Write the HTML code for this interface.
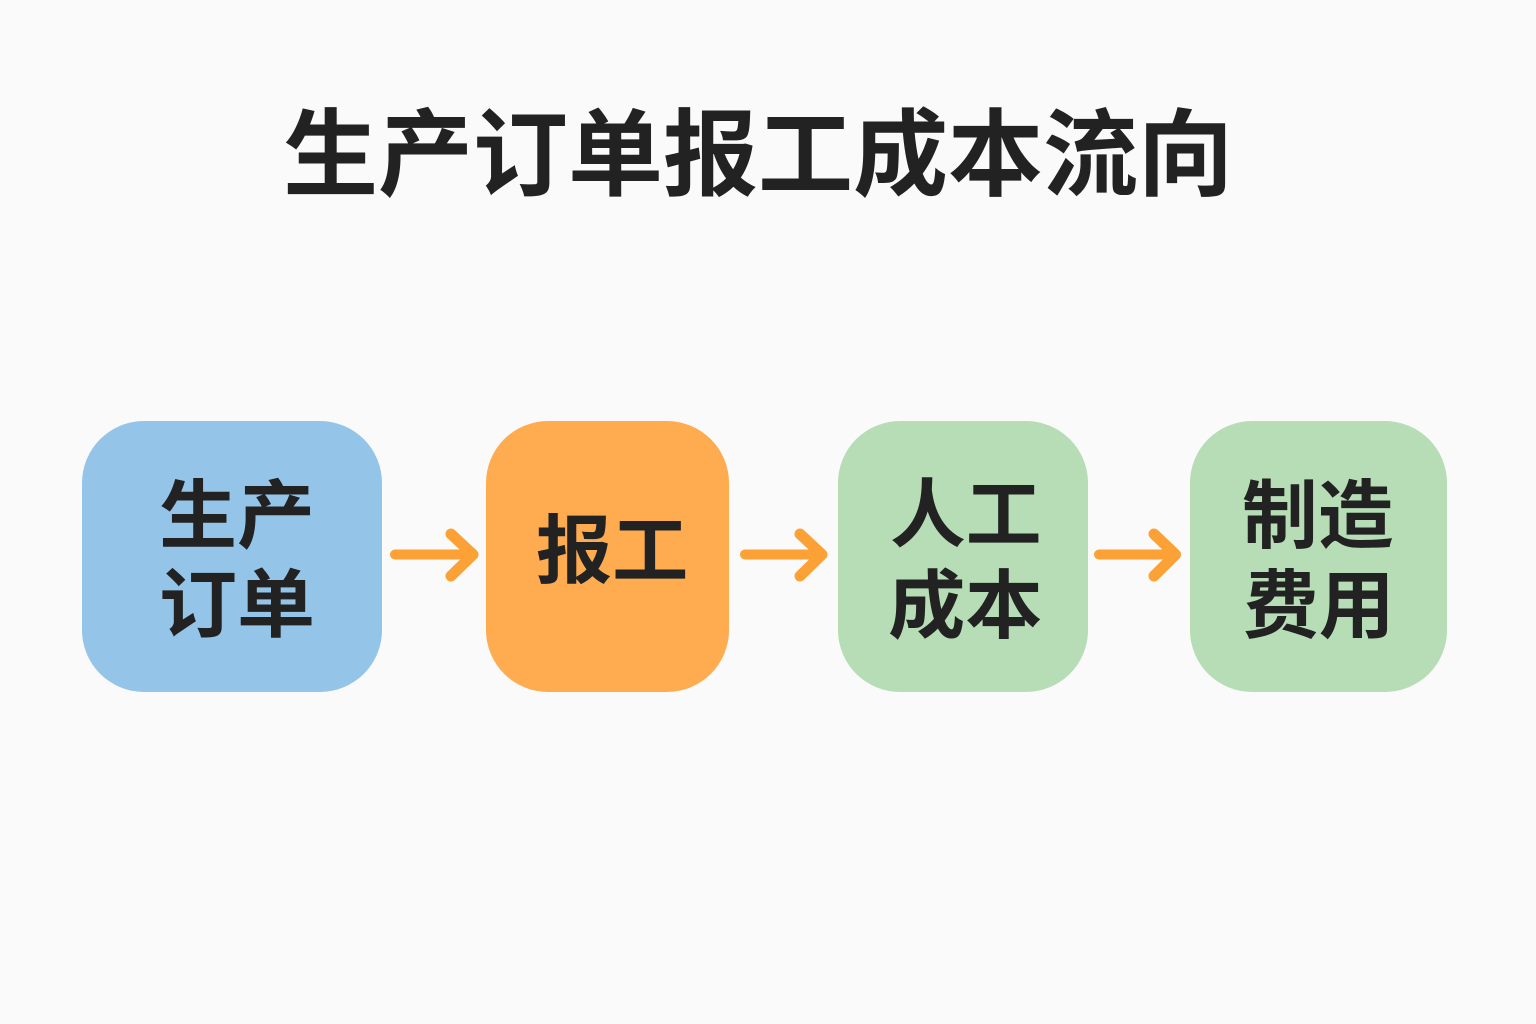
<!DOCTYPE html>
<html lang="zh">
<head>
<meta charset="utf-8">
<style>
html,body{margin:0;padding:0;background:#fafafa;}
#c{position:relative;width:1536px;height:1024px;overflow:hidden;background:#fafafa;font-family:"Liberation Sans","Noto Sans CJK SC",sans-serif;font-weight:700;color:#222;}
.t{position:absolute;white-space:nowrap;line-height:1;transform-origin:left top;}
.b{position:absolute;top:421px;height:271px;}
</style>
</head>
<body>
<div id="c">
<div class="t" style="left:283px;top:109px;font-size:95px;">生产订单报工成本流向</div>
<div class="b" style="left:82px;width:300px;background:#94c5e9;border-radius:62px;"></div>
<div class="b" style="left:486px;width:243px;background:#ffac50;border-radius:62px;"></div>
<div class="b" style="left:838px;width:250px;background:#b6ddb5;border-radius:62px;"></div>
<div class="b" style="left:1190px;width:257px;background:#b6ddb5;border-radius:62px;"></div>
<div class="t" style="left:159px;top:479px;font-size:75px;transform:scaleX(1.04);">生产</div>
<div class="t" style="left:159px;top:568px;font-size:75px;transform:scaleX(1.04);">订单</div>
<div class="t" style="left:536px;top:514px;font-size:75px;transform:scaleX(1.015);">报工</div>
<div class="t" style="left:890px;top:478px;font-size:75px;transform:scaleX(1.01);">人工</div>
<div class="t" style="left:888px;top:569px;font-size:75px;transform:scaleX(1.03);">成本</div>
<div class="t" style="left:1242px;top:479px;font-size:75px;transform:scaleX(1.01);">制造</div>
<div class="t" style="left:1243px;top:569px;font-size:75px;transform:scaleX(1.01);">费用</div>
<svg width="1536" height="1024" style="position:absolute;left:0;top:0" fill="none" stroke="#fba136" stroke-linecap="round" stroke-linejoin="round">
<g stroke-width="10">
<path d="M395 554.5H472"/>
<path d="M745 554.5H821"/>
<path d="M1099 554.5H1175"/>
</g>
<g stroke-width="11">
<path d="M451 534L473 554.5L451 576"/>
<path d="M800 534L822 554.5L800 576"/>
<path d="M1154 534L1175.500 554.5L1154 576"/>
</g>
</svg>
</div>
</body>
</html>
